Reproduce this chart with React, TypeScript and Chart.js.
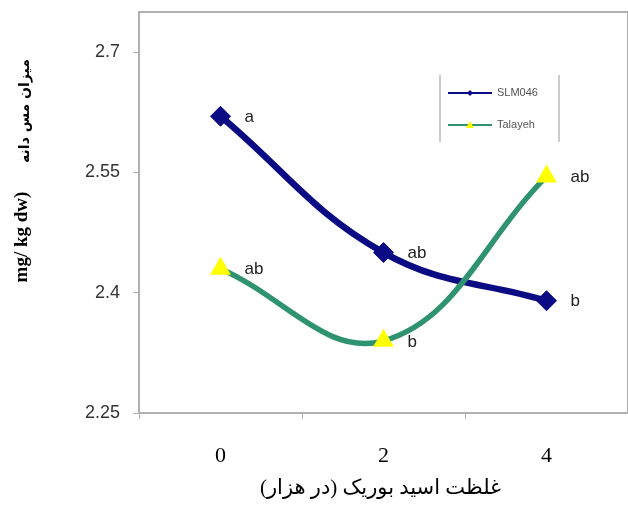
import React, { useEffect, useRef } from 'react';
import { Chart, registerables } from 'chart.js';

Chart.register(...registerables);

const categories = ['0', '2', '4'];
const seriesNames = ['SLM046', 'Talayeh'];
const slmValues = [2.62, 2.45, 2.39];
const talayehValues = [2.43, 2.34, 2.545];
const slmLetters = ['a', 'ab', 'b'];
const talayehLetters = ['ab', 'b', 'ab'];
const yTicks = [2.25, 2.4, 2.55, 2.7];
const xTitle = 'غلظت اسید بوریک (در هزار)\u200F';
const yTitlePersian = 'میزان مس دانه';
const yTitleLatin = 'mg/ kg dw)';

const NAVY = '#0b0b84';
const GREEN = '#2f9370';
const YELLOW = '#ffff00';
const FRAME = '#b0b0b0';

export default function App() {
  const ref = useRef<HTMLCanvasElement>(null);

  useEffect(() => {
    const canvas = ref.current;
    if (!canvas) return;
    const letters = [slmLetters, talayehLetters];

    const annot = {
      id: 'annot',
      beforeDatasetsDraw(chart: any) {
        const { ctx, chartArea: a } = chart;
        ctx.save();
        ctx.strokeStyle = FRAME;
        ctx.lineWidth = 2;
        ctx.beginPath();
        ctx.moveTo(a.left, a.top);
        ctx.lineTo(a.right, a.top);
        ctx.lineTo(a.right, a.bottom);
        ctx.stroke();
        ctx.restore();
      },
      afterDatasetsDraw(chart: any) {
        const { ctx, chartArea: a } = chart;
        ctx.save();
        // point letters
        ctx.fillStyle = '#222';
        ctx.font = '17px Arial, "Liberation Sans", sans-serif';
        ctx.textAlign = 'left';
        ctx.textBaseline = 'middle';
        chart.data.datasets.forEach((_ds: any, i: number) => {
          const meta = chart.getDatasetMeta(i);
          meta.data.forEach((pt: any, j: number) => {
            ctx.fillText(letters[i][j], pt.x + 24, pt.y + 1);
          });
        });

        // legend
        const lx = 440, rx = 559, ty = 75, by = 142;
        ctx.strokeStyle = '#999';
        ctx.lineWidth = 1;
        ctx.beginPath();
        ctx.moveTo(lx, ty); ctx.lineTo(lx, by);
        ctx.moveTo(rx, ty); ctx.lineTo(rx, by);
        ctx.stroke();
        const rows = [93, 125];
        const cols = [NAVY, GREEN];
        rows.forEach((ry, i) => {
          ctx.strokeStyle = cols[i];
          ctx.lineWidth = 2;
          ctx.beginPath();
          ctx.moveTo(448, ry); ctx.lineTo(492, ry);
          ctx.stroke();
          ctx.beginPath();
          if (i === 0) {
            ctx.fillStyle = NAVY;
            ctx.moveTo(470, ry - 3); ctx.lineTo(473, ry); ctx.lineTo(470, ry + 3); ctx.lineTo(467, ry);
          } else {
            ctx.fillStyle = YELLOW;
            ctx.moveTo(470, ry - 4); ctx.lineTo(474, ry + 3); ctx.lineTo(466, ry + 3);
          }
          ctx.closePath();
          ctx.fill();
          ctx.fillStyle = '#555';
          ctx.font = '11px Arial, "Liberation Sans", sans-serif';
          ctx.textAlign = 'left';
          ctx.textBaseline = 'middle';
          ctx.fillText(seriesNames[i], 497, ry);
        });

        // x title
        ctx.fillStyle = '#000';
        ctx.font = '21px "Times New Roman", "Liberation Serif", "DejaVu Sans", serif';
        ctx.textAlign = 'center';
        ctx.textBaseline = 'middle';
        ctx.fillText(xTitle, (a.left + a.right) / 2 - 3, 488);

        // y title
        ctx.save();
        ctx.translate(22, 237);
        ctx.rotate(-Math.PI / 2);
        ctx.font = 'bold 19px "Times New Roman", "Liberation Serif", serif';
        ctx.textAlign = 'center';
        ctx.textBaseline = 'middle';
        ctx.fillText(yTitleLatin, 0, 0);
        ctx.restore();

        ctx.save();
        ctx.translate(25, 111);
        ctx.rotate(-Math.PI / 2);
        ctx.font = 'bold 14px "DejaVu Sans", sans-serif';
        ctx.textAlign = 'center';
        ctx.textBaseline = 'middle';
        ctx.fillText(yTitlePersian, 0, 0);
        ctx.restore();

        ctx.restore();
      },
    };

    const chart = new Chart(canvas, {
      type: 'line',
      data: {
        labels: categories,
        datasets: [
          {
            label: seriesNames[0],
            data: slmValues,
            borderColor: NAVY,
            backgroundColor: NAVY,
            borderWidth: 6.5,
            pointStyle: 'rectRot',
            pointRadius: 10,
            pointBorderWidth: 1,
            pointBackgroundColor: NAVY,
            pointBorderColor: NAVY,
            tension: 0.4,
            order: 1,
          },
          {
            label: seriesNames[1],
            data: talayehValues,
            borderColor: GREEN,
            backgroundColor: YELLOW,
            borderWidth: 5.5,
            pointStyle: 'triangle',
            pointRadius: 12,
            pointBorderWidth: 0,
            pointBackgroundColor: YELLOW,
            pointBorderColor: YELLOW,
            tension: 0.4,
            order: 0,
          },
        ],
      },
      options: {
        responsive: false,
        animation: false,
        layout: { padding: { top: 8, right: 9, left: 0, bottom: 0 } },
        plugins: { legend: { display: false }, tooltip: { enabled: false } },
        scales: {
          x: {
            type: 'category',
            offset: true,
            grid: { offset: true, drawOnChartArea: false, drawTicks: true, tickLength: 6, color: FRAME, lineWidth: 1 },
            border: { display: true, color: FRAME, width: 2 },
            ticks: {
              color: '#000',
              padding: 24,
              font: { family: '"Times New Roman", "Liberation Serif", serif', size: 22 },
            },
            afterFit(scale: any) {
              scale.height = 93;
              scale.paddingLeft = 0;
              scale.paddingRight = 0;
            },
          },
          y: {
            min: 2.25,
            max: 2.75,
            afterBuildTicks(scale: any) { scale.ticks = yTicks.map((v) => ({ value: v })); },
            grid: { drawOnChartArea: false, drawTicks: true, tickLength: 6, color: FRAME, lineWidth: 1 },
            border: { display: true, color: FRAME, width: 2 },
            ticks: {
              color: '#333',
              padding: 13,
              font: { family: 'Arial, "Liberation Sans", sans-serif', size: 18 },
              callback: (v: any) => String(v),
            },
            afterFit(scale: any) {
              scale.width = 139;
              scale.paddingTop = 0;
              scale.paddingBottom = 0;
            },
          },
        },
      },
      plugins: [annot],
    });
    return () => chart.destroy();
  }, []);

  return (
    <div style={{ position: 'absolute', left: 0, top: 0, width: 628, height: 506, overflow: 'hidden', background: '#fff' }}>
      <canvas ref={ref} width={640} height={506} style={{ display: 'block', width: 640, height: 506 }} />
    </div>
  );
}
